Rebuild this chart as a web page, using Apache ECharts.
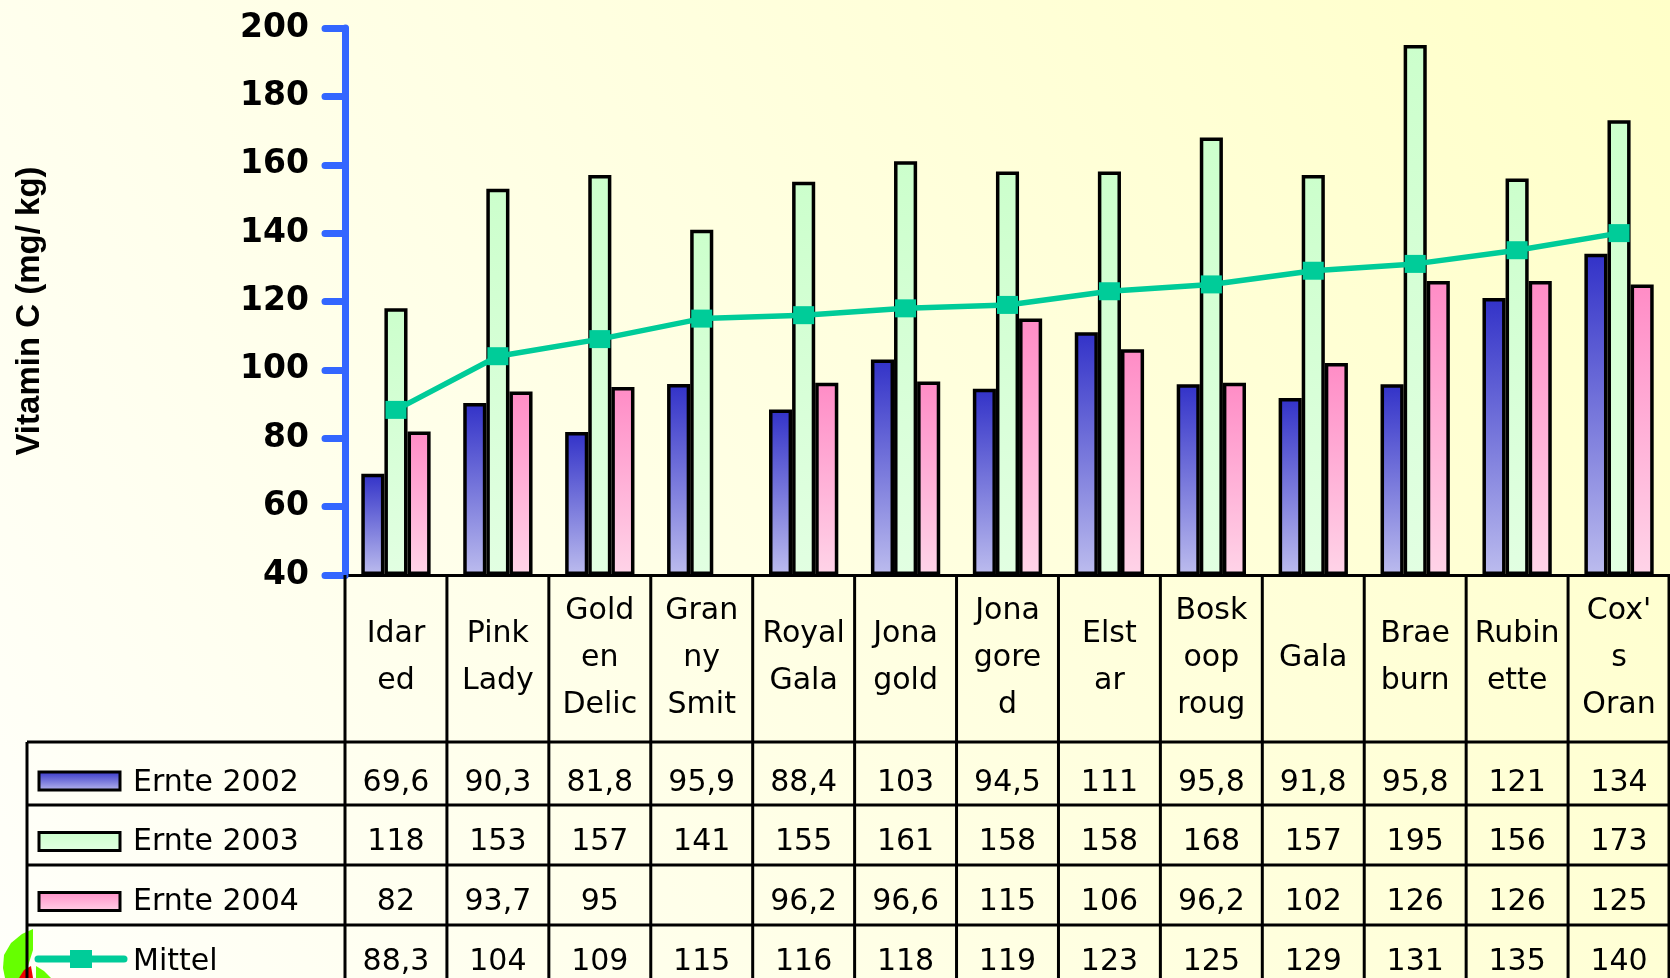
<!DOCTYPE html>
<html><head><meta charset="utf-8">
<script src="https://cdn.jsdelivr.net/npm/echarts@6/dist/echarts.min.js"></script>
<style>html,body{margin:0;padding:0;background:#fffff4;} #c{width:1670px;height:978px;}</style>
</head><body><div id="c"></div>
<script>
// ---- data ----
const categories = ['Idar\ned','Pink\nLady','Gold\nen\nDelic','Gran\nny\nSmit','Royal\nGala','Jona\ngold','Jona\ngore\nd','Elst\nar','Bosk\noop\nroug','Gala','Brae\nburn','Rubin\nette',"Cox'\ns\nOran"];
const seriesNames = ['Ernte 2002','Ernte 2003','Ernte 2004','Mittel'];
const ernte2002 = [69.6,90.3,81.8,95.9,88.4,103,94.5,111,95.8,91.8,95.8,121,134];
const ernte2003 = [118,153,157,141,155,161,158,158,168,157,195,156,173];
const ernte2004 = [82,93.7,95,null,96.2,96.6,115,106,96.2,102,126,126,125];
const mittel = [88.3,104,109,115,116,118,119,123,125,129,131,135,140];
const yAxisTitle = 'Vitamin C (mg/ kg)';
const yMin = 40, yMax = 200, yStep = 20;

// ---- styles ----
const FONT = "'Comic Sans MS','DejaVu Sans',sans-serif";
const grad = (top, bottom) => new echarts.graphic.LinearGradient(0,0,0,1,[{offset:0,color:top},{offset:1,color:bottom}]);
const colBlue = () => grad('#3232c8','#bcbcee');
const colGreen = () => grad('#ccffcc','#e2ffe2');
const colPink = () => grad('#ff8cc6','#ffd4e8');
const lineColor = '#00cc99';
const fmt = v => v == null ? '' : String(v).replace('.', ',');

const chart = echarts.init(document.getElementById('c'));
const barStyle = c => ({color: c, borderColor:'#000', borderWidth:3.5});

chart.setOption({
  animation:false,
  backgroundColor: new echarts.graphic.LinearGradient(0,1,1,0,[{offset:0,color:'#fffffa'},{offset:1,color:'#ffffc8'}]),
  grid:{left:345, right:0, top:28, bottom:403, containLabel:false},
  xAxis:{
    type:'category', data:categories,
    axisLine:{lineStyle:{color:'#000', width:3}},
    axisTick:{show:false},
    axisLabel:{interval:0, fontFamily:FONT, fontSize:30, color:'#000', lineHeight:47, verticalAlign:'middle', margin:83}
  },
  yAxis:{
    type:'value', min:yMin, max:yMax, interval:yStep, startValue:yMin,
    splitLine:{show:false},
    axisLine:{show:true, lineStyle:{color:'#3366ff', width:7, cap:'round'}},
    axisTick:{show:true, length:20, lineStyle:{color:'#3366ff', width:7, cap:'round'}},
    axisLabel:{fontFamily:"'DejaVu Sans',sans-serif", fontWeight:'bold', fontSize:33, color:'#000', margin:36}
  },
  series:[
    {name:seriesNames[0], type:'bar', data:ernte2002, barGap:'0%', barCategoryGap:'32%', itemStyle:barStyle(colBlue())},
    {name:seriesNames[1], type:'bar', data:ernte2003, itemStyle:barStyle(colGreen())},
    {name:seriesNames[2], type:'bar', data:ernte2004, itemStyle:barStyle(colPink())},
    {name:seriesNames[3], type:'line', data:mittel, z:5, symbol:'rect', symbolSize:[21,18],
     lineStyle:{color:lineColor, width:5.5}, itemStyle:{color:lineColor}}
  ]
});

// ---- data table drawn under the axis ----
const x0 = chart.convertToPixel({xAxisIndex:0}, 0);
const x1 = chart.convertToPixel({xAxisIndex:0}, 1);
const band = x1 - x0;
const left = x0 - band/2;
const axisY = chart.convertToPixel({yAxisIndex:0}, yMin);
const right = left + band*categories.length;
const tableLeft = 27, bottom = 990;
const rowLines = [742, 805, 865, 925];
const rowText = [783, 842.5, 902.5, 962];
const keyY = [781, 841.5, 901.5, 959];
const rows = [ernte2002, ernte2003, ernte2004, mittel];
const lineSt = {stroke:'#000', lineWidth:3};
const g = [];

// logo fragment bottom-left
g.push({type:'polygon', shape:{points:[[33,929],[22,934],[11,943],[4,955],[3,968],[5,978],[22,978],[28,966],[33,950]]}, style:{fill:'#66ff00'}, z:1});
g.push({type:'polygon', shape:{points:[[36,966],[44,971],[51,978],[36,978]]}, style:{fill:'#66ff00'}, z:1});
g.push({type:'polygon', shape:{points:[[19,978],[24,970],[31,966],[33,978]]}, style:{fill:'#ee0000'}, z:1});

for (let k = 0; k <= categories.length; k++) {
  const x = Math.min(left + k*band, 1669);
  g.push({type:'line', shape:{x1:x, y1:axisY, x2:x, y2:bottom}, style:lineSt, z:10});
}
g.push({type:'line', shape:{x1:tableLeft, y1:rowLines[0], x2:tableLeft, y2:bottom}, style:lineSt, z:10});
rowLines.forEach(y => g.push({type:'line', shape:{x1:tableLeft, y1:y, x2:right, y2:y}, style:lineSt, z:10}));

rows.forEach((arr, r) => {
  arr.forEach((v, i) => {
    const cx = chart.convertToPixel({xAxisIndex:0}, i);
    g.push({type:'text', x:cx, y:rowText[r], style:{text:fmt(v), fill:'#000', font:"30px "+FONT, align:'center', verticalAlign:'middle'}, z:11});
  });
  g.push({type:'text', x:133, y:rowText[r], style:{text:seriesNames[r], fill:'#000', font:"30px "+FONT, align:'left', verticalAlign:'middle'}, z:11});
});
// legend keys
const keyFills = [colBlue(), colGreen(), colPink()];
keyFills.forEach((f, r) => {
  g.push({type:'rect', shape:{x:39, y:keyY[r]-9, width:81, height:18}, style:{fill:f, stroke:'#000', lineWidth:3}, z:11});
});
g.push({type:'line', shape:{x1:38, y1:keyY[3], x2:124, y2:keyY[3]}, style:{stroke:lineColor, lineWidth:7, lineCap:'round'}, z:11});
g.push({type:'rect', shape:{x:70, y:keyY[3]-9, width:22, height:18}, style:{fill:lineColor}, z:12});

// y axis title
g.push({type:'text', x:30, y:311, rotation:Math.PI/2, style:{text:yAxisTitle, fill:'#000', font:"bold 33px 'Liberation Sans',Arial,sans-serif", align:'center', verticalAlign:'middle'}, z:11});

chart.setOption({graphic:g});
</script>
</body></html>
